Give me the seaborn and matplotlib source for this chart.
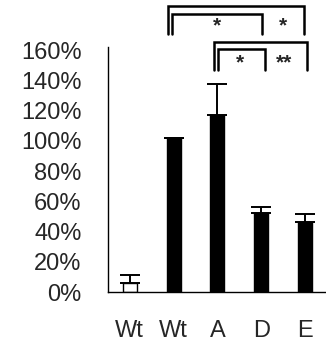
import numpy as np
import pandas as pd
import matplotlib
matplotlib.use('Agg')
import matplotlib.pyplot as plt
import seaborn as sns

# data
groups = ['Wt_ctrl', 'Wt', 'A', 'D', 'E']
tick_labels = ['Wt', 'Wt', 'A', 'D', 'E']
values = [6, 102, 117, 52, 46]
errors = [5, 0, 20.5, 4, 5.5]
bar_colors = ['white', 'black', 'black', 'black', 'black']

# significance brackets: (x1, x2, y_top, y_leg)
brackets = [(0.87, 3.98, 189, 170.6), (0.96, 3.02, 184, 170.6),
            (1.92, 4.05, 165, 146.8), (2.01, 3.09, 160.7, 146.8)]
stars = [(1.99, 176, '*'), (3.5, 176, '*'), (2.51, 151.5, '*'), (3.52, 151.5, '**')]

sns.set_style('white')
plt.rcParams['font.family'] = ['Liberation Sans', 'DejaVu Sans']

df = pd.DataFrame({'group': groups, 'value': values})

fig = plt.figure(figsize=(3.26, 3.45), dpi=100)
ax = fig.add_axes([0.331, 0.1536, 0.669, 0.7102])

sns.barplot(data=df, x='group', y='value', order=groups, palette=bar_colors,
            hue='group', legend=False, width=0.32, edgecolor='black',
            linewidth=1, errorbar=None, ax=ax)

x = np.arange(len(groups))
ax.errorbar(x, values, yerr=[np.zeros(len(errors)), errors], fmt='none',
            ecolor='black', elinewidth=1.4, capsize=7, capthick=1.4)

for x1, x2, yt, yl in brackets:
    ax.plot([x1, x1, x2, x2], [yl, yt, yt, yl], color='black', lw=1.8,
            clip_on=False, solid_joinstyle='miter')
for sx, sy, s in stars:
    ax.text(sx, sy, s, ha='center', va='center', fontsize=15, fontweight='bold',
            clip_on=False)

ax.set_xlim(-0.5, 4.48)
ax.set_ylim(0, 162)
ax.set_yticks(np.arange(0, 161, 20))
ax.set_yticklabels([f'{v}%' for v in range(0, 161, 20)])
ax.set_xticks(x)
ax.set_xticklabels(tick_labels)
ax.set_xlabel('')
ax.set_ylabel('')
ax.tick_params(axis='both', length=0, labelsize=17, pad=19)
ax.tick_params(axis='x', pad=20)

sns.despine(ax=ax, top=True, right=True)
for sp in ['left', 'bottom']:
    ax.spines[sp].set_color('black')
    ax.spines[sp].set_linewidth(1)

fig.savefig('out.png', dpi=100)
